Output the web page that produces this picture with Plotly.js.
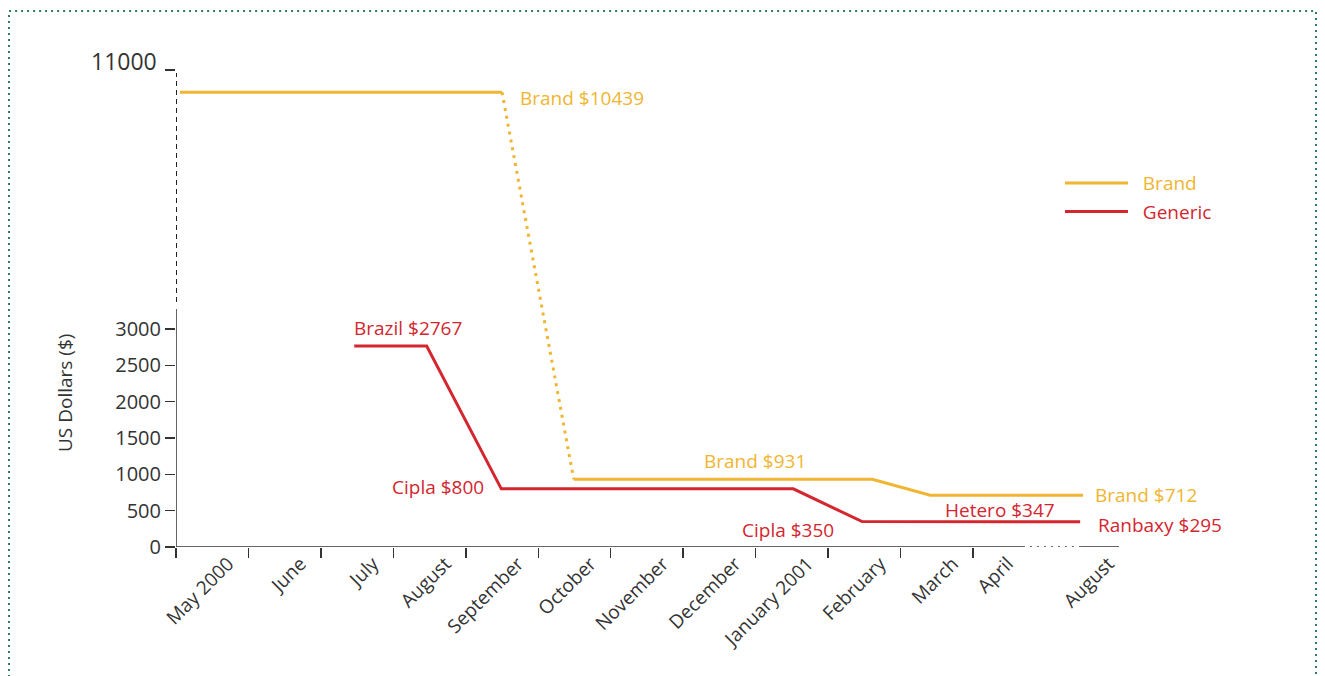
<!DOCTYPE html>
<html>
<head>
<meta charset="utf-8">
<script src="https://cdn.plot.ly/plotly-3.0.1.min.js"></script>
<style>
html,body{margin:0;padding:0;background:#ffffff;}
#chart{width:1325px;height:676px;}
</style>
</head>
<body>
<div id="chart"></div>
<script>
// ---------- data ----------
const months = ['May 2000','June','July','August','September','October','November','December','January 2001','February','March','April','August'];
const monthPos = [0.5,1.5,2.5,3.5,4.5,5.5,6.5,7.5,8.5,9.5,10.5,11.26,12.65];
const boundaryPos = [0,1,2,3,4,5,6,7,8,9,10,11];

const brandX = [0.055, 4.5, 5.49, 9.61, 10.41, 12.52];
const brandPrice = [10439, 10439, 931, 931, 712, 712];
const genericX = [2.46, 3.46, 4.49, 8.52, 9.47, 12.48];
const genericPrice = [2767, 2767, 800, 800, 350, 347];

const yTickValues = [0,500,1000,1500,2000,2500,3000,11000];

const priceLabels = ['Brand $10439','Brazil $2767','Cipla $800','Brand $931','Cipla $350','Hetero $347','Ranbaxy $295','Brand $712'];

// ---------- broken axis mapping ----------
const LOW_TOP = 3275;          // top of solid lower segment (axis units)
const UP_MIN_V = 5135, UP_MIN_M = 3371;  // upper segment start
const UP_MAX_V = 11000, UP_MAX_M = 6564; // upper segment end
function yMap(v){
  if (v <= 3300) return v;
  return UP_MIN_M + (v - UP_MIN_V) * (UP_MAX_M - UP_MIN_M) / (UP_MAX_V - UP_MIN_V);
}
const Y_RANGE = [0, 6702];
const X_RANGE = [0, 13.016];

const GOLD = '#F0B531';
const RED = '#D3262F';
const AX = '#333333';
const FONT = 'Open Sans, Noto Sans, sans-serif';
const NB = '\u00A0\u00A0';

const traces = [
  { x: brandX.slice(0,2), y: brandPrice.slice(0,2).map(yMap), mode:'lines', name:'<span style="color:'+GOLD+'">'+NB+'Brand</span>',
    line:{color:GOLD, width:3}, legendgroup:'b', hoverinfo:'skip' },
  { x: brandX.slice(1,3), y: brandPrice.slice(1,3).map(yMap), mode:'lines', showlegend:false,
    line:{color:GOLD, width:3, dash:'3px,5px'}, hoverinfo:'skip' },
  { x: brandX.slice(2), y: brandPrice.slice(2).map(yMap), mode:'lines', showlegend:false,
    line:{color:GOLD, width:3}, hoverinfo:'skip' },
  { x: genericX, y: genericPrice.map(yMap), mode:'lines', name:'<span style="color:'+RED+'">'+NB+'Generic</span>',
    line:{color:RED, width:3}, legendgroup:'g', hoverinfo:'skip' },
  { x: [], y: [], xaxis:'x2', mode:'lines', showlegend:false, hoverinfo:'skip' }
];

function ann(text, x, y, color, xanchor, xshift, yshift){
  return { text:text, x:x, y:yMap(y), xref:'x', yref:'y', showarrow:false,
    xanchor:xanchor, yanchor:'middle', xshift:xshift, yshift:yshift,
    font:{family:FONT, size:19, color:color} };
}

const annotations = [
  ann(priceLabels[0], brandX[1], brandPrice[1], GOLD, 'left', 16, -6),
  ann(priceLabels[1], genericX[0], genericPrice[0], RED, 'left', -2, 18),
  ann(priceLabels[2], genericX[2], genericPrice[2], RED, 'right', -15, 2),
  ann(priceLabels[3], 7.99, brandPrice[3], GOLD, 'center', 0, 18),
  ann(priceLabels[4], 8.45, genericPrice[4], RED, 'center', 0, -8),
  ann(priceLabels[5], 11.37, genericPrice[5], RED, 'center', 0, 12),
  ann(priceLabels[6], genericX[5], genericPrice[5], RED, 'left', 16, -3),
  ann(priceLabels[7], brandX[5], brandPrice[5], GOLD, 'left', 10, 0),
  // upper-segment tick label (sits above its tick, larger)
  { text:String(yTickValues[7]), x:0, y:yMap(yTickValues[7]), xref:'x', yref:'y', showarrow:false,
    xanchor:'right', yanchor:'middle', xshift:-17, yshift:9, font:{family:FONT, size:23, color:AX} },
  { text:'US Dollars ($)', xref:'paper', yref:'paper', x:-0.1177, y:0.3162, showarrow:false,
    textangle:-90, xanchor:'center', yanchor:'middle', font:{family:FONT, size:19, color:AX} }
];

const shapes = [
  // outer dotted frame
  { type:'rect', xref:'paper', yref:'paper', x0:-0.1771, x1:1.2089, y0:-0.30, y1:1.1006,
    line:{color:'#2E7D5F', width:2, dash:'2px,4px'}, fillcolor:'rgba(0,0,0,0)' },
  // y axis: solid lower, dashed upper
  { type:'line', xref:'x', yref:'y', x0:0, x1:0, y0:0, y1:LOW_TOP, line:{color:AX, width:1.5} },
  { type:'line', xref:'x', yref:'y', x0:0, x1:0, y0:UP_MIN_M, y1:6523, line:{color:'#222222', width:2, dash:'5px,4px'} },
  // x axis: solid, dotted gap, solid
  { type:'line', xref:'x', yref:'y', x0:0, x1:11.69, y0:0, y1:0, line:{color:AX, width:1.5} },
  { type:'line', xref:'x', yref:'y', x0:11.69, x1:12.48, y0:0, y1:0, line:{color:AX, width:1.5, dash:'2px,5px'} },
  { type:'line', xref:'x', yref:'y', x0:12.48, x1:13.016, y0:0, y1:0, line:{color:AX, width:1.5} }
];

const layout = {
  width:1325, height:676,
  margin:{l:176, r:206, t:60, b:129, pad:0},
  paper_bgcolor:'#ffffff', plot_bgcolor:'rgba(0,0,0,0)',
  font:{family:FONT, color:AX},
  showlegend:true,
  legend:{x:0.9374, y:0.7863, xanchor:'left', yanchor:'top', bgcolor:'rgba(0,0,0,0)',
    font:{family:FONT, size:19}, itemwidth:63, traceorder:'grouped', tracegroupgap:1},
  xaxis:{ range:X_RANGE, tickmode:'array', tickvals:monthPos, ticktext:months, ticks:'',
    tickangle:-45, tickfont:{family:FONT, size:19, color:AX}, showgrid:false, zeroline:false,
    showline:false, ticklabelstandoff:1, ticklabelshift:16, fixedrange:true },
  xaxis2:{ range:X_RANGE, overlaying:'x', anchor:'y', side:'bottom', tickmode:'array', tickvals:boundaryPos,
    ticks:'outside', ticklen:10, tickwidth:1.5, tickcolor:AX, showticklabels:false, showgrid:false,
    zeroline:false, showline:false, fixedrange:true },
  yaxis:{ range:Y_RANGE, tickmode:'array', tickvals:yTickValues.map(yMap),
    ticktext:yTickValues.map(v => v === 11000 ? '' : String(v)),
    ticks:'outside', ticklen:10, tickwidth:1.5, tickcolor:AX,
    tickfont:{family:FONT, size:20, color:AX}, showgrid:false, zeroline:false, showline:false, fixedrange:true },
  annotations:annotations,
  shapes:shapes
};

Plotly.newPlot('chart', traces, layout, {displayModeBar:false, staticPlot:true});
</script>
</body>
</html>
